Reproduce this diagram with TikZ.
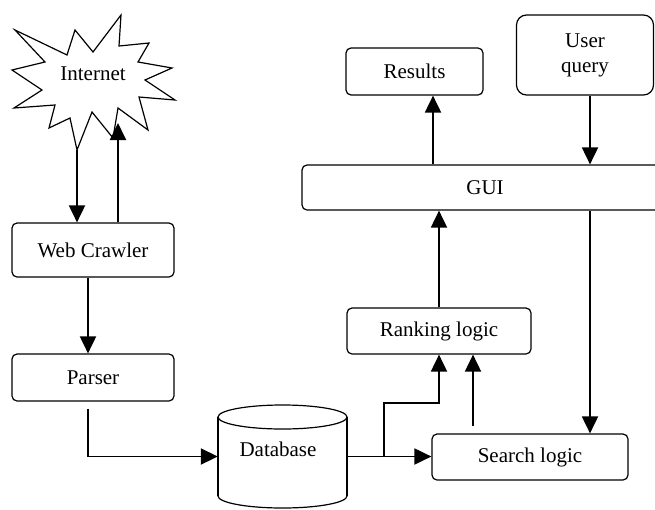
\documentclass[tikz,border=0pt]{standalone}
\usepackage{fontspec}
\setmainfont{Liberation Serif}
\usetikzlibrary{arrows.meta}
\begin{document}
\begin{tikzpicture}[x=1pt,y=-1pt,
  box/.style={draw, rounded corners=5pt, line width=1.2pt, inner sep=0pt, align=center, font=\fontsize{21}{25}\selectfont},
  arr/.style={line width=1.9pt, -{Triangle[width=16pt,length=17pt]}},
  lbl/.style={font=\fontsize{21}{25}\selectfont, inner sep=0pt}]
\useasboundingbox (0,0) rectangle (655,509);
\clip (0,0) rectangle (655,509);
\fill[white] (0,0) rectangle (655,509);

% Internet star
\draw[line width=1.2pt, fill=white] (15,30) -- (67,55) -- (75,30) -- (93,52) -- (121,15) -- (119,46) -- (149,43) -- (138,62) -- (172,68) -- (145,80) -- (175,100) -- (139,97) -- (148,130) -- (118,108) -- (113,138) -- (92,112) -- (77,150) -- (70,118) -- (49,128) -- (55,105) -- (14,108) -- (42,90) -- (12,70) -- (45,62) -- cycle;
\node[lbl] (inet) at (93,74) {Internet};
\coordinate (inB) at (77,150);
\coordinate (inT) at (118,123);

% boxes
\node[box, minimum width=162pt, minimum height=54pt] (wc) at (93,250) {Web Crawler};
\node[box, minimum width=162pt, minimum height=47pt] (parser) at (93,377.5) {Parser};
\node[box, minimum width=184pt, minimum height=46pt] (rank) at (439,331) {Ranking logic};
\node[box, minimum width=196pt, minimum height=46pt] (search) at (530,457) {Search logic};
\node[box, minimum width=366pt, minimum height=45pt] (gui) at (485,187.5) {GUI};
\node[box, minimum width=137pt, minimum height=47pt] (res) at (414.5,71.5) {Results};
\node[box, rounded corners=10pt, minimum width=137pt, minimum height=80pt] (uq) at (585,55) {User\\query};

% database cylinder
\node[inner sep=0pt, minimum width=129pt, minimum height=103pt] (db) at (282.5,456.5) {};
\draw[line width=1.2pt] (218,417) -- (218,496);
\draw[line width=1.2pt] (347,417) -- (347,496);
\begin{scope}
  \clip (200,496) rectangle (360,520);
  \draw[line width=1.2pt] (282.5,496) ellipse [x radius=64.5pt, y radius=12pt];
\end{scope}
\draw[line width=1.2pt] (282.5,417) ellipse [x radius=64.5pt, y radius=12pt];
\node[lbl] (dbtxt) at (278,449) {Database};

% connectors
\coordinate (sx) at (473,0);
\coordinate (rx) at (433,0);
\coordinate (qx) at (590,0);
\coordinate (br) at (384,456.5);
\coordinate (brk) at (384,403);

\draw[arr] (inB) -- (inB |- wc.north);
\draw[arr] (wc.north -| inT) -- (inT);
\draw[arr] ([xshift=-5pt]wc.south) -- ([xshift=-5pt]parser.north);
\draw[arr] ([xshift=-5pt,yshift=-7pt]parser.south) |- (db.west);
\draw[arr] (db.east) -- (db.east -| search.west);
\draw[arr] (br) -- (brk) -| (rank.south);
\draw[arr] ([yshift=7pt]search.north -| sx) -- (rank.south -| sx);
\draw[arr] (rank.north) -- (rank.north |- gui.south);
\draw[arr] (gui.north -| rx) -- (res.south -| rx);
\draw[arr] (uq.south -| qx) -- (gui.north -| qx);
\draw[arr] (gui.south -| qx) -- (search.north -| qx);
\end{tikzpicture}
\end{document}
